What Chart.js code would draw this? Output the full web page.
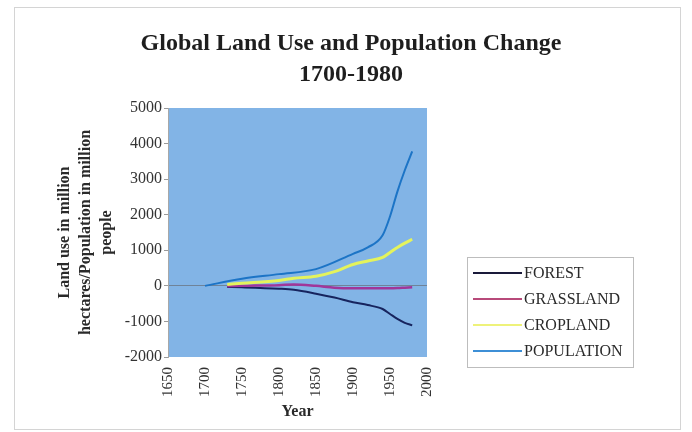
<!DOCTYPE html>
<html>
<head>
<meta charset="utf-8">
<script src="https://cdn.jsdelivr.net/npm/chart.js@4/dist/chart.umd.min.js"></script>
<style>
  html, body { margin: 0; padding: 0; background: #ffffff; }
  #wrap { width: 692px; height: 432px; }
</style>
</head>
<body>
<div id="wrap"><canvas id="chart" width="692" height="432"></canvas></div>
<script>
// Change relative to 1700 (land use in million hectares, population in million people)
const titleLines = ['Global Land Use and Population Change', '1700-1980'];
const yAxisTitle = ['Land use in million', 'hectares/Population in million', 'people'];
const xAxisTitle = 'Year';

const landYears = [1730, 1750, 1800, 1820, 1850, 1875, 1900, 1920, 1940, 1950, 1960, 1970, 1980];
const forest    = [-30, -40, -80, -110, -220, -330, -460, -540, -650, -790, -930, -1040, -1110];
const grassland = [-10, 0, 20, 40, 0, -50, -65, -65, -65, -65, -60, -50, -40];
const cropland  = [40, 70, 150, 215, 270, 400, 600, 700, 800, 940, 1080, 1200, 1310];

const popYears   = [1700, 1750, 1800, 1850, 1900, 1920, 1940, 1950, 1960, 1970, 1980];
const population = [0, 200, 330, 470, 900, 1080, 1420, 1950, 2650, 3250, 3780];

const seriesNames = ['FOREST', 'GRASSLAND', 'CROPLAND', 'POPULATION'];

const xTicks = { min: 1650, max: 2000, step: 50 };
const yTicks = { min: -2000, max: 5000, step: 1000 };

const SERIF = '"Liberation Serif", "Times New Roman", serif';

function pairs(xs, ys) {
  return xs.map((x, i) => ({ x: x, y: ys[i] }));
}

// Plot fill, frame, title and legend
const decor = {
  id: 'decor',
  beforeDraw(chart) {
    const { ctx, chartArea: a } = chart;
    ctx.save();
    ctx.fillStyle = '#ffffff';
    ctx.fillRect(0, 0, chart.width, chart.height);
    ctx.strokeStyle = '#d4d4d4';
    ctx.lineWidth = 1;
    ctx.strokeRect(14.5, 7.5, 666, 422);
    ctx.fillStyle = '#82b4e6';
    ctx.fillRect(a.left, a.top, a.right - a.left, a.bottom - a.top);
    ctx.restore();
  },
  afterDraw(chart) {
    const ctx = chart.ctx;
    ctx.save();
    // title
    ctx.fillStyle = '#1e1e1e';
    ctx.font = 'bold 24px ' + SERIF;
    ctx.textAlign = 'center';
    ctx.textBaseline = 'alphabetic';
    ctx.fillText(titleLines[0], 351, 50);
    ctx.fillText(titleLines[1], 351, 81);
    // legend
    const bx = 467, by = 257, bw = 166, bh = 110;
    ctx.fillStyle = '#ffffff';
    ctx.fillRect(bx, by, bw, bh);
    ctx.strokeStyle = '#bdbdbd';
    ctx.lineWidth = 1;
    ctx.strokeRect(bx + 0.5, by + 0.5, bw, bh);
    ctx.font = '16px ' + SERIF;
    ctx.textAlign = 'left';
    ctx.textBaseline = 'middle';
    chart.data.datasets.forEach((ds, i) => {
      const y = 273 + i * 26;
      ctx.strokeStyle = ds.legendColor || ds.borderColor;
      ctx.lineWidth = 2;
      ctx.beginPath();
      ctx.moveTo(473, y);
      ctx.lineTo(522, y);
      ctx.stroke();
      ctx.fillStyle = '#2a2a2a';
      ctx.fillText(ds.label, 524, y + 1);
    });
    ctx.restore();
  }
};

new Chart(document.getElementById('chart'), {
  type: 'line',
  data: {
    datasets: [
      { label: seriesNames[0], data: pairs(landYears, forest), borderColor: '#17245e', legendColor: '#1a1a3a', borderWidth: 2, order: 4 },
      { label: seriesNames[1], data: pairs(landYears, grassland), borderColor: '#a0369a', legendColor: '#b84a7a', borderWidth: 2.5, order: 3 },
      { label: seriesNames[2], data: pairs(landYears, cropland), borderColor: '#e4f35c', legendColor: '#eef27a', borderWidth: 3, order: 2 },
      { label: seriesNames[3], data: pairs(popYears, population), borderColor: '#1c74c6', legendColor: '#3d8fd6', borderWidth: 2, order: 1 }
    ]
  },
  options: {
    responsive: false,
    animation: false,
    events: [],
    layout: { padding: { left: 0, top: 108, right: 265, bottom: 0 } },
    elements: {
      point: { radius: 0 },
      line: { tension: 0.25, cubicInterpolationMode: 'monotone', fill: false }
    },
    plugins: {
      legend: { display: false },
      title: { display: false },
      tooltip: { enabled: false }
    },
    scales: {
      x: {
        type: 'linear',
        min: xTicks.min,
        max: xTicks.max,
        afterFit(s) { s.height = 75; },
        grid: { display: false, drawTicks: false },
        border: { display: false },
        ticks: {
          stepSize: xTicks.step,
          autoSkip: false,
          minRotation: 90,
          maxRotation: 90,
          padding: 10,
          color: '#333333',
          font: { family: SERIF, size: 15 },
          callback: v => String(v)
        },
        title: {
          display: true,
          text: xAxisTitle,
          color: '#2a2a2a',
          font: { family: SERIF, size: 16, weight: 'bold' },
          padding: { top: 0, bottom: 11 }
        }
      },
      y: {
        type: 'linear',
        min: yTicks.min,
        max: yTicks.max,
        afterFit(s) { s.width = 168; },
        grid: {
          drawOnChartArea: true,
          color: c => (c.tick && c.tick.value === 0) ? '#6f8399' : 'rgba(0,0,0,0)',
          tickColor: '#9a9a9a',
          tickLength: 4,
          lineWidth: 1
        },
        border: { display: true, color: '#a8a8a8' },
        ticks: {
          stepSize: yTicks.step,
          padding: 2,
          color: '#333333',
          font: { family: SERIF, size: 16 },
          callback: v => String(v)
        },
        title: {
          display: true,
          text: yAxisTitle,
          color: '#2a2a2a',
          font: { family: SERIF, size: 16, weight: 'bold', lineHeight: '21px' },
          padding: { top: 54, bottom: 0 }
        }
      }
    }
  },
  plugins: [decor]
});
</script>
</body>
</html>
